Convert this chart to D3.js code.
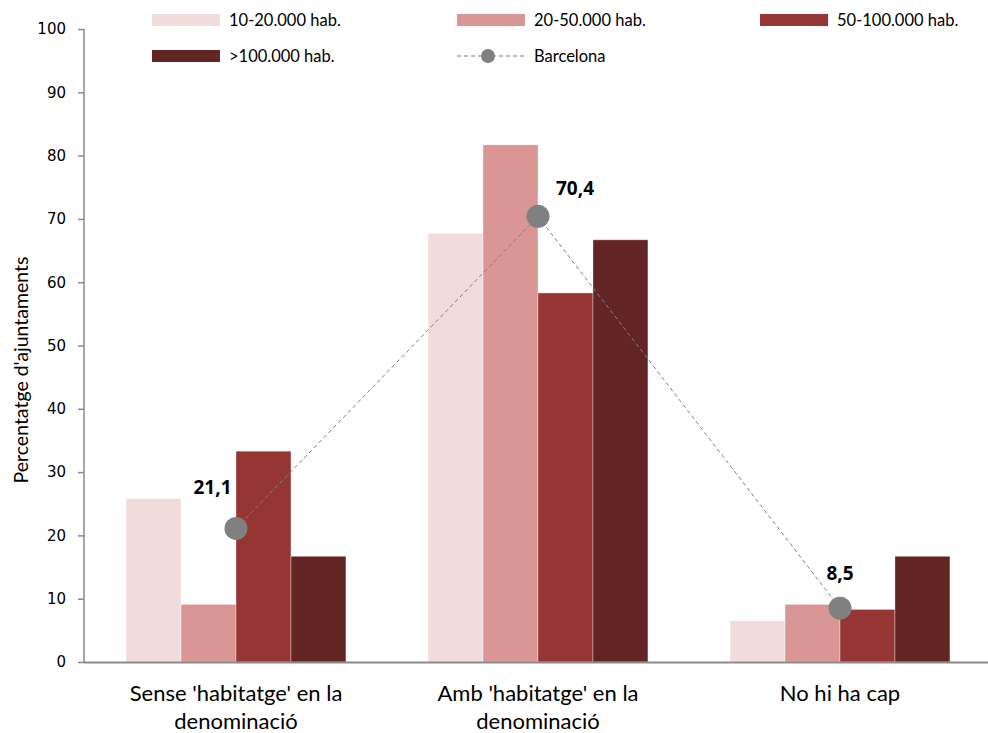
<!DOCTYPE html>
<html><head><meta charset="utf-8">
<script src="https://cdn.jsdelivr.net/npm/d3@7"></script>
<style>body{margin:0;background:#fff}svg{display:block}</style>
</head><body>
<script>
const categories = [["Sense 'habitatge' en la","denominació"],["Amb 'habitatge' en la","denominació"],["No hi ha cap"]];
const seriesNames = ["10-20.000 hab.","20-50.000 hab.","50-100.000 hab.",">100.000 hab."];
const s1 = [25.8, 67.7, 6.5];
const s2 = [9.1, 81.7, 9.1];
const s3 = [33.3, 58.3, 8.3];
const s4 = [16.7, 66.7, 16.7];
const barcelona = [21.1, 70.4, 8.5];
const barcelonaLabels = ["21,1","70,4","8,5"];
const yTicks = [0,10,20,30,40,50,60,70,80,90,100];
const colors = ["#F2DCDB","#DA9694","#963634","#632523"];

const W=988,H=733;
const svg=d3.select("body").append("svg").attr("width",W).attr("height",H);
const x0=d3.scaleBand().domain(d3.range(3)).range([85,991]).paddingInner(0).paddingOuter(0);
const y=d3.scaleLinear().domain([0,100]).range([662,29]);
const innerW = x0.bandwidth()*0.728;
const x1=d3.scaleBand().domain(d3.range(4)).range([0,innerW]);
const series=[s1,s2,s3,s4];
const txtFont="Lato, sans-serif";

// bars
series.forEach((s,si)=>{
  svg.append("g").selectAll("rect").data(s).join("rect")
    .attr("x",(d,i)=>x0(i)+(x0.bandwidth()-innerW)/2+x1(si))
    .attr("y",d=>y(d)).attr("width",x1.bandwidth()).attr("height",d=>y(0)-y(d))
    .attr("fill",colors[si]).attr("stroke","rgba(255,255,255,0.35)").attr("stroke-width",1);
});

// axes
const ya=svg.append("g").attr("transform","translate(84,0)")
  .call(d3.axisLeft(y).tickValues(yTicks).tickSize(6).tickPadding(12));
ya.selectAll("path,line").attr("stroke","#8a8a8a").attr("stroke-width",1.5);
ya.select(".domain").attr("d","M0,"+y(100)+"V"+y(0));
ya.selectAll("text").attr("font-family","'DejaVu Sans', sans-serif").attr("font-size",15).attr("fill","#000");
svg.append("line").attr("x1",84).attr("x2",988).attr("y1",y(0)+0.5).attr("y2",y(0)+0.5).attr("stroke","#8a8a8a").attr("stroke-width",2);

// category labels
categories.forEach((c,i)=>{
  const t=svg.append("text").attr("x",x0(i)+x0.bandwidth()/2).attr("y",701)
    .attr("text-anchor","middle").attr("font-family",txtFont).attr("font-size",22).attr("fill","#000");
  c.forEach((line,j)=>t.append("tspan").attr("x",x0(i)+x0.bandwidth()/2).attr("dy",j?28:0).text(line));
});

// y title
svg.append("text").attr("transform","translate(28,370) rotate(-90)").attr("text-anchor","middle")
  .attr("font-family",txtFont).attr("font-size",19.5).attr("fill","#000").text("Percentatge d'ajuntaments");

// barcelona line
const cx=i=>x0(i)+x0.bandwidth()/2;
svg.append("path").datum(barcelona)
  .attr("d",d3.line().x((d,i)=>cx(i)).y(d=>y(d)))
  .attr("fill","none").attr("stroke","#808080").attr("stroke-width",1).attr("stroke-dasharray","4,3");
svg.append("g").selectAll("circle").data(barcelona).join("circle")
  .attr("cx",(d,i)=>cx(i)).attr("cy",d=>y(d)).attr("r",11.5).attr("fill","#808080");
const lblOff=[[-23.5,-34],[37,-21],[0,-28]];
svg.append("g").selectAll("text").data(barcelona).join("text")
  .attr("x",(d,i)=>cx(i)+lblOff[i][0]).attr("y",(d,i)=>y(d)+lblOff[i][1])
  .attr("text-anchor","middle").attr("font-family","'Open Sans', sans-serif").attr("font-weight","bold")
  .attr("font-size",19).attr("fill","#000").text((d,i)=>barcelonaLabels[i]);

// legend
const legPos=[[152,20],[457,20],[760,20],[152,56]];
seriesNames.forEach((n,i)=>{
  const [lx,ly]=legPos[i];
  svg.append("rect").attr("x",lx).attr("y",ly-6).attr("width",68).attr("height",12).attr("fill",colors[i]);
  svg.append("text").attr("x",lx+77).attr("y",ly+6).attr("font-family",txtFont).attr("font-size",16.5).attr("fill","#000").text(n);
});
svg.append("line").attr("x1",457).attr("x2",525).attr("y1",56).attr("y2",56).attr("stroke","#808080").attr("stroke-dasharray","4,3");
svg.append("circle").attr("cx",488).attr("cy",56).attr("r",7).attr("fill","#808080");
svg.append("text").attr("x",534).attr("y",62).attr("font-family",txtFont).attr("font-size",16.5).attr("fill","#000").text("Barcelona");
</script>
</body></html>
